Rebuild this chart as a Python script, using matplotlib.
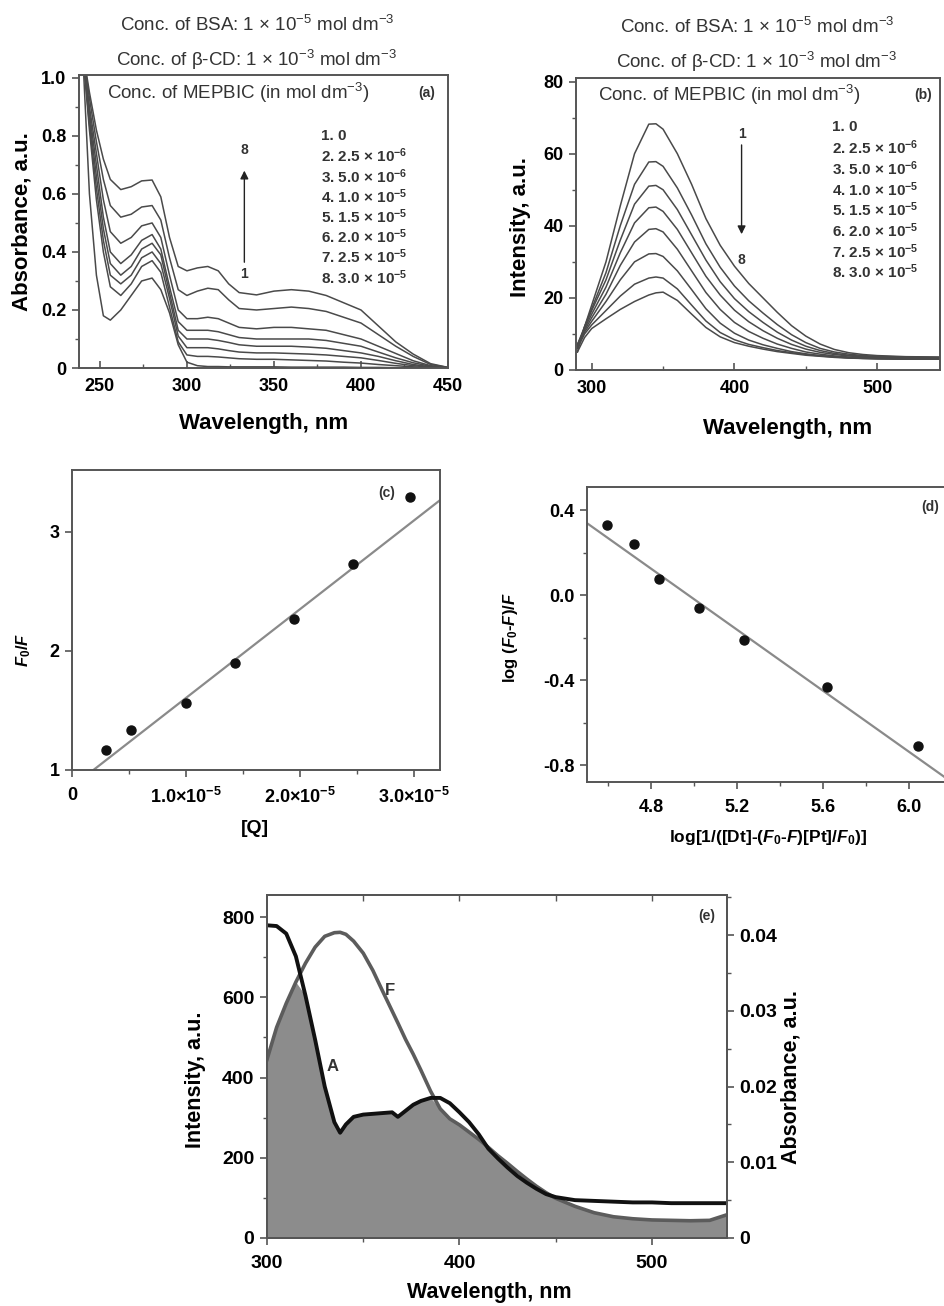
import numpy as np
import matplotlib
matplotlib.use('Agg')
import matplotlib.pyplot as plt
from matplotlib.ticker import MultipleLocator

plt.rcParams['font.family'] = ['Liberation Sans', 'DejaVu Sans']
plt.rcParams['font.weight'] = 'bold'
plt.rcParams['axes.labelweight'] = 'bold'
plt.rcParams['mathtext.fontset'] = 'custom'
plt.rcParams['mathtext.rm'] = 'Liberation Sans:bold'
plt.rcParams['mathtext.it'] = 'Liberation Sans:italic:bold'
plt.rcParams['mathtext.bf'] = 'Liberation Sans:bold'

# ---------------- data ----------------
# (a) absorption spectra, curves 1..8
wl_a = [240, 244, 248, 252, 256, 262, 268, 274, 280, 285, 290, 295, 300, 306, 312,
        318, 324, 330, 340, 350, 360, 370, 380, 390, 400, 410, 420, 430, 440, 450]
abs_1 = [1.10, 0.60, 0.32, 0.18, 0.165, 0.20, 0.25, 0.30, 0.31, 0.27, 0.19, 0.08, 0.02, 0.008, 0.005,
         0.005, 0.004, 0.004, 0.004, 0.004, 0.003, 0.003, 0.003, 0.003, 0.002, 0.002, 0.001, 0.001, 0.0, 0.0]
abs_2 = [1.10, 0.82, 0.58, 0.40, 0.28, 0.25, 0.29, 0.35, 0.37, 0.33, 0.21, 0.09, 0.045, 0.04, 0.04,
         0.038, 0.035, 0.032, 0.03, 0.03, 0.028, 0.026, 0.024, 0.02, 0.017, 0.012, 0.008, 0.004, 0.001, 0.0]
abs_3 = [1.10, 0.84, 0.62, 0.44, 0.32, 0.29, 0.32, 0.38, 0.40, 0.36, 0.24, 0.11, 0.07, 0.07, 0.07,
         0.066, 0.06, 0.055, 0.052, 0.052, 0.05, 0.048, 0.045, 0.04, 0.035, 0.026, 0.016, 0.008, 0.003, 0.0]
abs_4 = [1.10, 0.86, 0.66, 0.48, 0.36, 0.32, 0.35, 0.41, 0.43, 0.39, 0.26, 0.13, 0.10, 0.10, 0.10,
         0.095, 0.088, 0.08, 0.075, 0.075, 0.075, 0.072, 0.068, 0.06, 0.052, 0.04, 0.025, 0.012, 0.004, 0.0]
abs_5 = [1.10, 0.88, 0.70, 0.52, 0.40, 0.36, 0.39, 0.44, 0.46, 0.41, 0.28, 0.16, 0.13, 0.13, 0.13,
         0.125, 0.115, 0.105, 0.10, 0.10, 0.10, 0.10, 0.095, 0.085, 0.075, 0.055, 0.035, 0.018, 0.006, 0.001]
abs_6 = [1.10, 0.90, 0.74, 0.58, 0.47, 0.43, 0.45, 0.49, 0.50, 0.45, 0.32, 0.20, 0.17, 0.17, 0.175,
         0.17, 0.155, 0.14, 0.135, 0.14, 0.14, 0.135, 0.13, 0.115, 0.10, 0.075, 0.05, 0.025, 0.008, 0.001]
abs_7 = [1.10, 0.93, 0.78, 0.65, 0.56, 0.52, 0.53, 0.555, 0.56, 0.51, 0.38, 0.27, 0.25, 0.265, 0.275,
         0.27, 0.235, 0.205, 0.20, 0.205, 0.21, 0.205, 0.195, 0.175, 0.155, 0.115, 0.075, 0.04, 0.012, 0.002]
abs_8 = [1.10, 0.95, 0.82, 0.72, 0.65, 0.615, 0.625, 0.645, 0.648, 0.59, 0.45, 0.35, 0.335, 0.345, 0.35,
         0.335, 0.29, 0.26, 0.252, 0.265, 0.27, 0.265, 0.25, 0.225, 0.20, 0.145, 0.09, 0.048, 0.015, 0.002]
absorb_a = [abs_1, abs_2, abs_3, abs_4, abs_5, abs_6, abs_7, abs_8]

# legend: concentration of MEPBIC
conc_mant = ['0', '2.5', '5.0', '1.0', '1.5', '2.0', '2.5', '3.0']
conc_exp = [None, -6, -6, -5, -5, -5, -5, -5]

# (b) emission spectra, curves 1..8
wl_b = [290, 295, 300, 310, 320, 330, 340, 345, 350, 360, 370, 380, 390, 400, 410,
        420, 430, 440, 450, 460, 470, 480, 490, 500, 520, 544]
int_1 = [5, 12, 18, 30, 45.5, 60, 68.2, 68.3, 66.8, 60, 51.5, 42, 34.6, 28.8, 24,
         20, 16, 12.3, 9.4, 7.2, 5.7, 4.8, 4.3, 4.0, 3.7, 3.6]
int_2 = [6, 12, 17, 27, 40, 51.5, 57.7, 57.8, 56.5, 50.5, 43, 35, 28.5, 23.3, 19.2,
         15.8, 12.6, 9.8, 7.6, 6.0, 5.0, 4.4, 4.0, 3.8, 3.6, 3.5]
int_3 = [7, 12, 16.5, 25, 36, 46, 51, 51.2, 50, 44.5, 37.5, 30.5, 24.5, 19.8, 16.2,
         13.2, 10.5, 8.3, 6.6, 5.4, 4.6, 4.1, 3.8, 3.6, 3.4, 3.4]
int_4 = [7, 11.5, 15.5, 23, 32.5, 40.8, 45, 45.2, 44, 39, 32.5, 26, 20.8, 16.6, 13.4,
         10.9, 8.8, 7.1, 5.8, 4.9, 4.3, 3.9, 3.6, 3.5, 3.4, 3.3]
int_5 = [7, 11, 14.5, 21, 29, 35.5, 39, 39.2, 38.3, 33.5, 27.5, 21.5, 16.8, 13.2, 10.7,
         8.8, 7.2, 6.0, 5.0, 4.4, 3.9, 3.6, 3.4, 3.3, 3.2, 3.2]
int_6 = [6.5, 10.5, 13.5, 19, 25, 30, 32.2, 32.3, 31.5, 27.5, 22.3, 17, 13, 10.2, 8.3,
         7.0, 6.0, 5.1, 4.5, 4.0, 3.7, 3.4, 3.3, 3.2, 3.1, 3.1]
int_7 = [6, 10, 12.5, 16.5, 20.5, 23.8, 25.5, 25.8, 25.5, 22.5, 18, 13.6, 10.4, 8.4, 7.1,
         6.2, 5.4, 4.8, 4.3, 3.9, 3.6, 3.4, 3.2, 3.1, 3.0, 3.0]
int_8 = [5, 9, 11.5, 14.2, 16.8, 19, 20.8, 21.4, 21.6, 19.3, 15.5, 11.8, 9.2, 7.6, 6.6,
         5.8, 5.1, 4.6, 4.1, 3.8, 3.5, 3.3, 3.2, 3.1, 3.0, 3.0]
intens_b = [int_1, int_2, int_3, int_4, int_5, int_6, int_7, int_8]

# (c) Stern-Volmer plot
q_conc = [0.30e-5, 0.52e-5, 1.00e-5, 1.43e-5, 1.95e-5, 2.47e-5, 2.97e-5]
f0_f = [1.17, 1.34, 1.56, 1.90, 2.27, 2.73, 3.29]
sv_slope = 0.745e5
sv_intercept = 0.86

# (d) double log plot
log_x = [4.595, 4.72, 4.834, 5.02, 5.231, 5.617, 6.04]
log_y = [0.333, 0.243, 0.075, -0.06, -0.21, -0.434, -0.71]
dl_slope = -0.719
dl_intercept = 3.575

# (e) spectral overlap
wl_e = [300, 305, 310, 315, 320, 325, 330, 335, 338, 341, 345, 350, 355, 360, 365, 368,
        372, 376, 380, 385, 390, 395, 400, 405, 410, 415, 420, 425, 430, 435, 440, 445,
        450, 460, 470, 480, 490, 500, 510, 520, 530, 539]
fluor_e = [445, 525, 585, 638, 685, 725, 752, 761, 762, 757, 740, 710, 667, 616, 566, 536,
           495, 458, 418, 366, 322, 297, 282, 264, 246, 226, 205, 186, 166, 147, 129, 113,
           99, 79, 63, 53, 48, 45, 44, 43, 44, 58]
absorb_e = [0.0413, 0.0412, 0.0402, 0.0372, 0.0320, 0.0262, 0.0200, 0.0153, 0.0139, 0.0150,
            0.0160, 0.0163, 0.0164, 0.0165, 0.0166, 0.0160, 0.0168, 0.0176, 0.0181, 0.0185,
            0.0185, 0.0178, 0.0166, 0.0153, 0.0137, 0.0118, 0.0105, 0.0093, 0.0082, 0.0073,
            0.0065, 0.0058, 0.0054, 0.0050, 0.0049, 0.0048, 0.0047, 0.0047, 0.0046, 0.0046,
            0.0046, 0.0046]

# ---------------- figure ----------------
W, H = 945, 1306
fig = plt.figure(figsize=(W / 100, H / 100), dpi=100)


def add_ax(l, t, r, b):
    return fig.add_axes([l / W, 1 - b / H, (r - l) / W, (b - t) / H])


def style(ax, xdir='in', size=13):
    for s in ax.spines.values():
        s.set_linewidth(1.4)
        s.set_color('#555555')
    ax.tick_params(axis='x', direction=xdir, length=5, width=1.2, labelsize=size, pad=7,
                   color='#555555')
    ax.tick_params(axis='x', which='minor', direction=xdir, length=3, width=1.0, color='#555555')
    ax.tick_params(axis='y', direction='out', length=5, width=1.2, labelsize=size, pad=4,
                   color='#555555')
    ax.tick_params(axis='y', which='minor', direction='out', length=3, width=1.0, color='#555555')


def sup(e):
    return '$\\mathregular{10^{%d}}$' % e


line_col = '#4a4a4a'
text_col = '#333333'

ax_a = add_ax(79, 75, 448, 368)
ax_b = add_ax(576, 78, 940, 370)
ax_c = add_ax(72, 470, 440, 770)
ax_d = add_ax(587, 487, 947, 782)
ax_e = add_ax(267, 895, 727, 1238)

# ---- (a) ----
for y in absorb_a:
    ax_a.plot(wl_a, y, color=line_col, lw=1.1)
ax_a.set_xlim(238, 450)
ax_a.set_ylim(0, 1.01)
ax_a.set_xticks([250, 300, 350, 400, 450])
ax_a.xaxis.set_minor_locator(MultipleLocator(25))
ax_a.set_yticks([0, 0.2, 0.4, 0.6, 0.8, 1.0])
ax_a.set_yticklabels(['0', '0.2', '0.4', '0.6', '0.8', '1.0'])
ax_a.yaxis.set_minor_locator(MultipleLocator(0.1))
style(ax_a)
ax_a.set_ylabel('Absorbance, a.u.', fontsize=16)
ax_a.yaxis.set_label_coords(-0.125, 0.5)
ax_a.set_xlabel('Wavelength, nm', fontsize=16)
ax_a.xaxis.set_label_coords(0.5, -0.154)
ax_a.text(0.076, 0.939, 'Conc. of MEPBIC (in mol dm$\\mathregular{^{-3}}$)', transform=ax_a.transAxes,
          fontsize=13.5, fontweight='normal', color=text_col, va='center')
ax_a.text(0.943, 0.939, '(a)', transform=ax_a.transAxes, fontsize=10, color=text_col,
          va='center', ha='center')
for i, (m, e) in enumerate(zip(conc_mant, conc_exp)):
    lab = '%d. %s' % (i + 1, m) + ('' if e is None else ' × ' + sup(e))
    ax_a.text(377, 0.80 - i * 0.0696, lab, fontsize=11, va='center', color=text_col)
ax_a.annotate('', xy=(333, 0.69), xytext=(333, 0.355),
              arrowprops=dict(arrowstyle='-|>', color='#222222', lw=1.0, mutation_scale=12))
ax_a.text(333, 0.75, '8', fontsize=10, ha='center', va='center', color=text_col)
ax_a.text(333, 0.325, '1', fontsize=10, ha='center', va='center', color=text_col)

fig.text(0.272, 1 - 25 / H, 'Conc. of BSA: 1 × ' + '$\\mathregular{10^{-5}}$' + ' mol dm$\\mathregular{^{-3}}$',
         ha='center', va='center', fontsize=13.5, fontweight='normal', color=text_col)
fig.text(0.272, 1 - 60 / H, 'Conc. of β-CD: 1 × ' + '$\\mathregular{10^{-3}}$' + ' mol dm$\\mathregular{^{-3}}$',
         ha='center', va='center', fontsize=13.5, fontweight='normal', color=text_col)

# ---- (b) ----
for y in intens_b:
    ax_b.plot(wl_b, y, color=line_col, lw=1.1)
ax_b.set_xlim(289, 544)
ax_b.set_ylim(0, 81)
ax_b.set_xticks([300, 400, 500])
ax_b.xaxis.set_minor_locator(MultipleLocator(50))
ax_b.set_yticks([0, 20, 40, 60, 80])
ax_b.yaxis.set_minor_locator(MultipleLocator(10))
style(ax_b)
ax_b.set_ylabel('Intensity, a.u.', fontsize=16)
ax_b.yaxis.set_label_coords(-0.124, 0.49)
ax_b.set_xlabel('Wavelength, nm', fontsize=16)
ax_b.xaxis.set_label_coords(0.582, -0.164)
ax_b.text(0.06, 0.942, 'Conc. of MEPBIC (in mol dm$\\mathregular{^{-3}}$)', transform=ax_b.transAxes,
          fontsize=13.5, fontweight='normal', color=text_col, va='center')
ax_b.text(0.953, 0.942, '(b)', transform=ax_b.transAxes, fontsize=10, color=text_col,
          va='center', ha='center')
for i, (m, e) in enumerate(zip(conc_mant, conc_exp)):
    lab = '%d. %s' % (i + 1, m) + ('' if e is None else ' × ' + sup(e))
    ax_b.text(468, 67.3 - i * 5.73, lab, fontsize=11, va='center', color=text_col)
ax_b.annotate('', xy=(405, 36.9), xytext=(405, 63.2),
              arrowprops=dict(arrowstyle='-|>', color='#222222', lw=1.0, mutation_scale=12))
ax_b.text(405, 65.5, '1', fontsize=10, ha='center', va='center', color=text_col)
ax_b.text(405, 30.5, '8', fontsize=10, ha='center', va='center', color=text_col)

fig.text(757 / W, 1 - 27 / H, 'Conc. of BSA: 1 × ' + '$\\mathregular{10^{-5}}$' + ' mol dm$\\mathregular{^{-3}}$',
         ha='center', va='center', fontsize=13.5, fontweight='normal', color=text_col)
fig.text(757 / W, 1 - 62 / H, 'Conc. of β-CD: 1 × ' + '$\\mathregular{10^{-3}}$' + ' mol dm$\\mathregular{^{-3}}$',
         ha='center', va='center', fontsize=13.5, fontweight='normal', color=text_col)

# ---- (c) ----
ax_c.set_xlim(0, 3.23e-5)
ax_c.set_ylim(1.0, 3.52)
xf = np.array(ax_c.get_xlim())
ax_c.plot(xf, sv_intercept + sv_slope * xf, color='#8a8a8a', lw=1.6)
ax_c.plot(q_conc, f0_f, 'o', color='#111111', ms=6.5)
ax_c.set_xticks([0, 1e-5, 2e-5, 3e-5])
ax_c.set_xticklabels(['0', '1.0×' + sup(-5), '2.0×' + sup(-5), '3.0×' + sup(-5)])
ax_c.xaxis.set_minor_locator(MultipleLocator(0.5e-5))
ax_c.set_yticks([1, 2, 3])
style(ax_c, xdir='out')
ax_c.set_ylabel('$F$$\\mathregular{_0}$/$F$', fontsize=12)
ax_c.yaxis.set_label_coords(-0.106, 0.4)
ax_c.set_xlabel('[Q]', fontsize=14)
ax_c.xaxis.set_label_coords(0.497, -0.167)
ax_c.text(0.856, 0.923, '(c)', transform=ax_c.transAxes, fontsize=10, color=text_col,
          va='center', ha='center')

# ---- (d) ----
ax_d.set_xlim(4.5, 6.175)
ax_d.set_ylim(-0.88, 0.51)
xd = np.array(ax_d.get_xlim())
ax_d.plot(xd, dl_intercept + dl_slope * xd, color='#8a8a8a', lw=1.6)
ax_d.plot(log_x, log_y, 'o', color='#111111', ms=6.5)
ax_d.set_xticks([4.8, 5.2, 5.6, 6.0])
ax_d.xaxis.set_minor_locator(MultipleLocator(0.2))
ax_d.set_yticks([0.4, 0.0, -0.4, -0.8])
ax_d.set_yticklabels(['0.4', '0.0', '-0.4', '-0.8'])
ax_d.yaxis.set_minor_locator(MultipleLocator(0.2))
style(ax_d, xdir='out')
ax_d.set_ylabel('log ($F$$\\mathregular{_0}$-$F$)/$F$', fontsize=12)
ax_d.yaxis.set_label_coords(-0.186, 0.49)
ax_d.set_xlabel('log[1/([Dt]-($F$$\\mathregular{_0}$-$F$)[Pt]/$F$$\\mathregular{_0}$)]', fontsize=12.5)
ax_d.xaxis.set_label_coords(0.503, -0.156)
ax_d.text(0.953, 0.932, '(d)', transform=ax_d.transAxes, fontsize=10, color=text_col,
          va='center', ha='center')

# ---- (e) ----
ax_e.set_xlim(300, 539)
ax_e.set_ylim(0, 855)
ax_e2 = ax_e.twinx()
ax_e2.set_ylim(0, 0.0453)
scale = ax_e.get_ylim()[1] / ax_e2.get_ylim()[1]
overlap = np.minimum(np.array(fluor_e), np.array(absorb_e) * scale)
ax_e.fill_between(wl_e, 0, overlap, color='#8c8c8c', lw=0, zorder=1)
ax_e.plot(wl_e, fluor_e, color='#5c5c5c', lw=2.6, zorder=3)
ax_e2.plot(wl_e, absorb_e, color='#111111', lw=2.8)
ax_e.set_xticks([300, 400, 500])
ax_e.xaxis.set_minor_locator(MultipleLocator(50))
ax_e.set_yticks([0, 200, 400, 600, 800])
ax_e.yaxis.set_minor_locator(MultipleLocator(100))
style(ax_e, xdir='out', size=14)
style(ax_e2, xdir='out', size=14)
ax_e2.set_yticks([0, 0.01, 0.02, 0.03, 0.04])
ax_e2.set_yticklabels(['0', '0.01', '0.02', '0.03', '0.04'])
ax_e2.yaxis.set_minor_locator(MultipleLocator(0.005))
top = ax_e.secondary_xaxis('top')
top.set_xticks([350, 400, 450, 500])
top.set_xticklabels([])
top.tick_params(direction='in', length=4, width=1.0, color='#555555')
top.spines['top'].set_visible(False)
ax_e.set_ylabel('Intensity, a.u.', fontsize=15.5)
ax_e.yaxis.set_label_coords(-0.133, 0.46)
ax_e2.set_ylabel('Absorbance, a.u.', fontsize=15.5)
ax_e2.yaxis.set_label_coords(1.117, 0.47)
ax_e.set_xlabel('Wavelength, nm', fontsize=15.5)
ax_e.xaxis.set_label_coords(0.483, -0.128)
ax_e.text(0.957, 0.94, '(e)', transform=ax_e.transAxes, fontsize=10, color=text_col,
          va='center', ha='center')
ax_e.text(364, 616, 'F', fontsize=12, color=text_col, va='center', ha='center', zorder=5)
ax_e.text(334, 428, 'A', fontsize=12, color=text_col, va='center', ha='center', zorder=5)

fig.savefig('out.png', dpi=100)
